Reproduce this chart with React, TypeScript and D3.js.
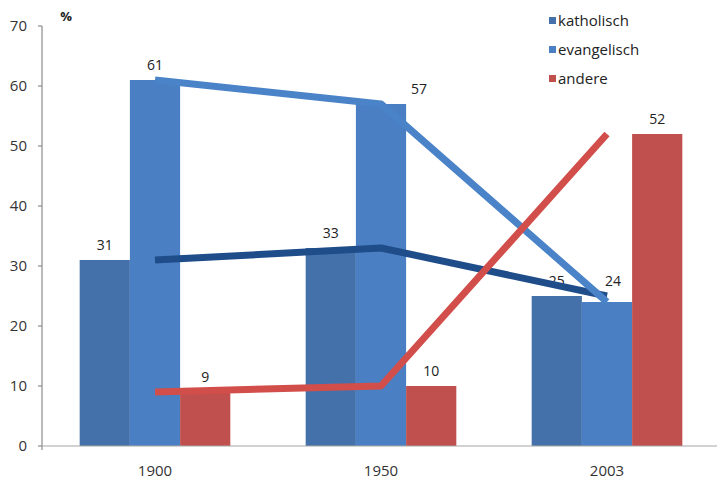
import React from "react";
import * as d3 from "d3";

const years = ["1900", "1950", "2003"];
const seriesNames = ["katholisch", "evangelisch", "andere"];
const katholisch = [31, 33, 25];
const evangelisch = [61, 57, 24];
const andere = [9, 10, 52];
const yTicks = [0, 10, 20, 30, 40, 50, 60, 70];

const barColors = ["#4571AB", "#4A80C3", "#C0504D"];
const lineColors = ["#1F4D8A", "#4A83C8", "#D24E4A"];
// per-label nudges (dx, dy) for labels that sit off the bar center
const labelNudge: Record<string, [number, number]> = {
  "evangelisch-1": [38, 0],
  "evangelisch-2": [6, -6],
};

const W = 717;
const H = 482;
const FONT = "'Open Sans', 'Noto Sans', sans-serif";

export default function App() {
  const values = [katholisch, evangelisch, andere];
  const x0 = d3.scaleBand<string>().domain(years).range([42, 42 + 226 * 3]).padding(0);
  const bw = x0.bandwidth();
  const x1 = d3
    .scaleBand<string>()
    .domain(seriesNames)
    .range([bw * 0.1667, bw * 0.8333])
    .padding(0);
  const y = d3.scaleLinear().domain([0, 70]).range([446, 26]);

  const line = d3
    .line<number>()
    .x((_, i) => (x0(years[i]) as number) + bw / 2)
    .y((v) => y(v));

  return (
    <svg
      width={W}
      height={H}
      style={{ position: "absolute", left: 0, top: 0, background: "#fff" }}
      fontFamily={FONT}
    >
      <rect x={0} y={0} width={W} height={H} fill="#fff" />
      {/* y axis */}
      <line x1={42} x2={42} y1={y(70)} y2={y(0) + 4} stroke="#8c8c8c" strokeWidth={1.2} />
      {yTicks.map((t) => (
        <g key={t}>
          <line x1={38} x2={42} y1={y(t)} y2={y(t)} stroke="#8c8c8c" strokeWidth={1.2} />
          <text x={27} y={y(t)} dy="0.35em" textAnchor="end" fontSize={15} fill="#333">
            {t}
          </text>
        </g>
      ))}
      <text x={66} y={21} textAnchor="middle" fontSize={13} fill="#222" fontWeight="bold">
        %
      </text>
      {/* bars */}
      {seriesNames.map((s, si) =>
        years.map((yr, i) => (
          <rect
            key={s + yr}
            x={(x0(yr) as number) + (x1(s) as number)}
            y={y(values[si][i])}
            width={x1.bandwidth()}
            height={y(0) - y(values[si][i])}
            fill={barColors[si]}
          />
        ))
      )}
      {/* x axis */}
      <line x1={42} x2={W} y1={y(0)} y2={y(0)} stroke="#a6a6a6" strokeWidth={1.2} />
      {years.map((yr) => (
        <text
          key={yr}
          x={(x0(yr) as number) + bw / 2}
          y={476}
          textAnchor="middle"
          fontSize={15}
          fill="#333"
        >
          {yr}
        </text>
      ))}
      {/* labels */}
      {seriesNames.map((s, si) =>
        years.map((yr, i) => {
          const n = labelNudge[`${s}-${i}`] || [0, 0];
          return (
            <text
              key={"l" + s + yr}
              x={(x0(yr) as number) + (x1(s) as number) + x1.bandwidth() / 2 + n[0]}
              y={y(values[si][i]) - 15 + n[1]}
              dy="0.35em"
              textAnchor="middle"
              fontSize={14}
              fill="#222"
            >
              {values[si][i]}
            </text>
          );
        })
      )}
      {/* lines */}
      {values.map((v, si) => (
        <path
          key={"p" + si}
          d={line(v) as string}
          fill="none"
          stroke={lineColors[si]}
          strokeWidth={7}
          strokeLinejoin="round"
        />
      ))}
      {/* legend */}
      {seriesNames.map((s, si) => (
        <g key={"lg" + s} transform={`translate(549, ${21 + si * 29})`}>
          <rect x={0} y={-4} width={7} height={7} fill={barColors[si]} />
          <text x={9} y={0} dy="0.35em" fontSize={15} fill="#222">
            {s}
          </text>
        </g>
      ))}
    </svg>
  );
}
